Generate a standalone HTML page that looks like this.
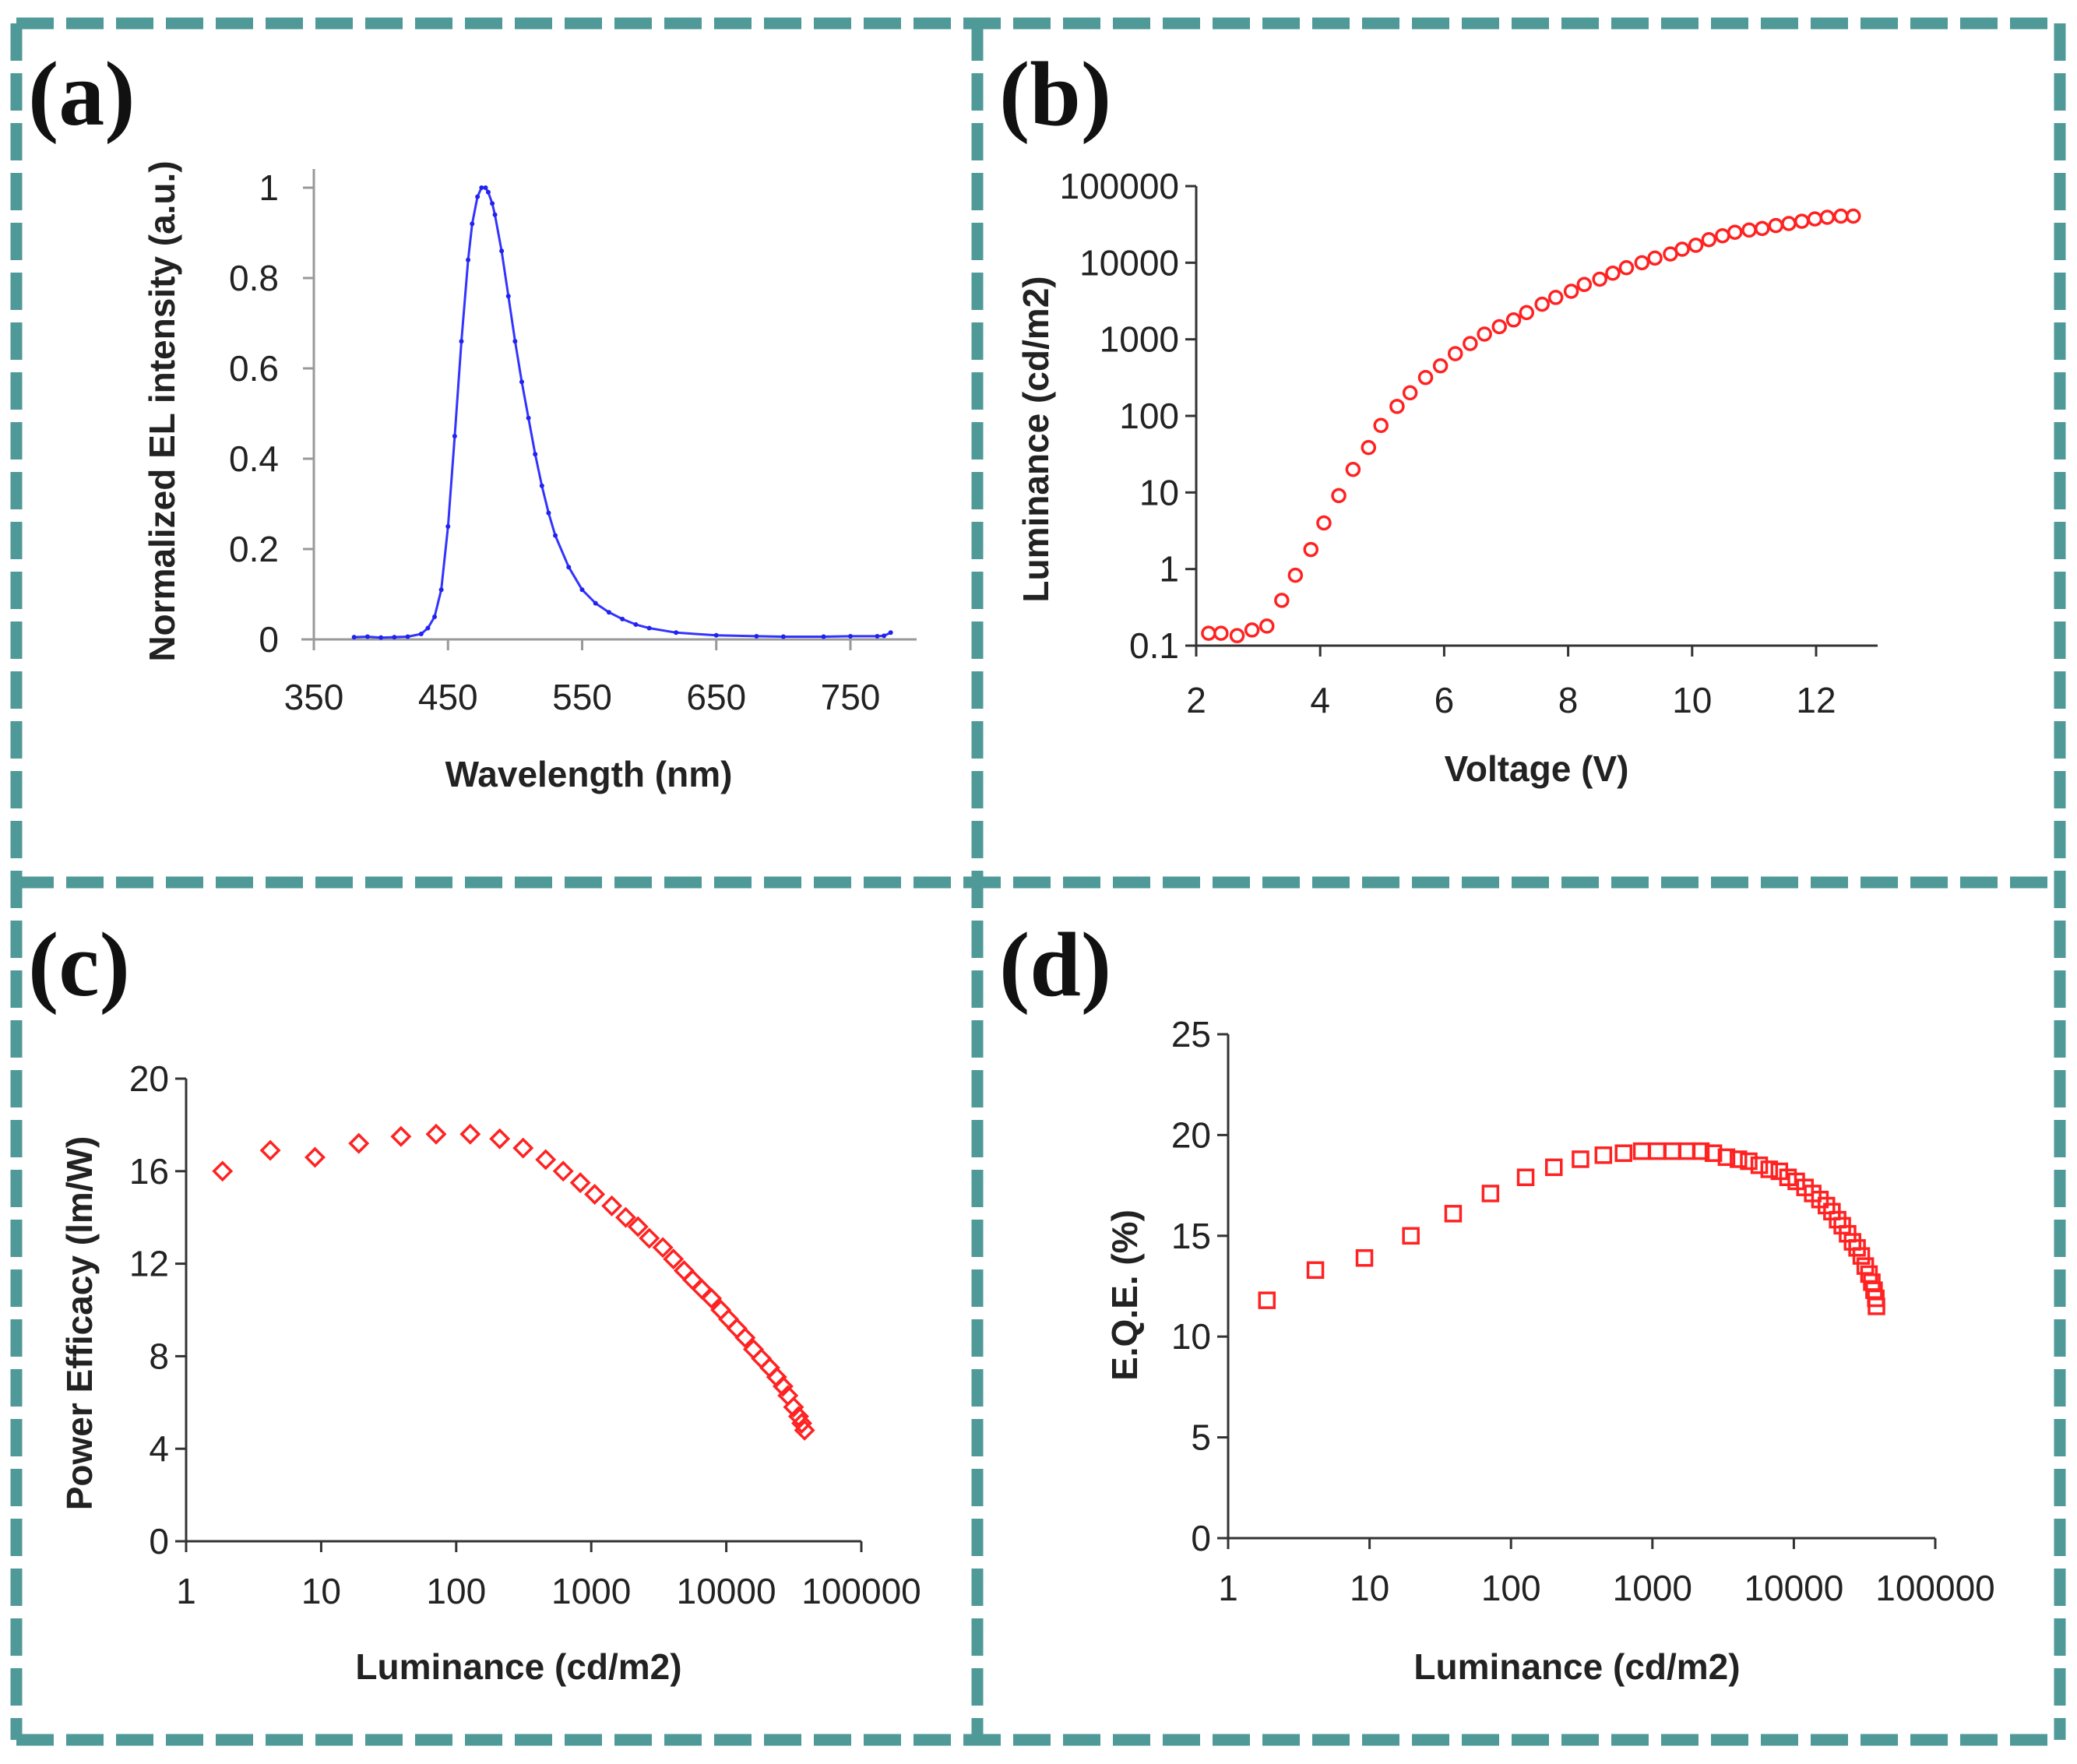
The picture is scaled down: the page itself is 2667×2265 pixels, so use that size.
<!DOCTYPE html>
<html><head><meta charset="utf-8"><style>
html,body{margin:0;padding:0;background:#fff;}
svg{display:block;}
text{font-family:"Liberation Sans",Arial,sans-serif;fill:#222;}
.tick{font-size:46px;}
.title{font-size:46px;font-weight:bold;}
.plabel{font-family:"Liberation Serif",serif;font-size:118px;font-weight:bold;fill:#111;}
</style></head><body>
<svg id="fig" width="2667" height="2265" viewBox="0 0 2667 2265" xmlns="http://www.w3.org/2000/svg">
<rect x="0" y="0" width="2667" height="2265" fill="#fff"/>
<g fill="none" stroke="#4f9a98" stroke-width="15" stroke-dasharray="48 16">
<line x1="21" y1="30" x2="2645" y2="30"/>
<line x1="21" y1="2234" x2="2645" y2="2234"/>
<line x1="21" y1="30" x2="21" y2="2234"/>
<line x1="2645" y1="30" x2="2645" y2="2234"/>
<line x1="1255" y1="30" x2="1255" y2="2234"/>
<line x1="21" y1="1133" x2="2645" y2="1133"/>
</g>
<text class="plabel" x="36" y="160">(a)</text>
<text class="plabel" x="1283" y="160">(b)</text>
<text class="plabel" x="36" y="1278">(c)</text>
<text class="plabel" x="1283" y="1278">(d)</text>
<g id="ga"></g>
<g id="gb"></g>
<g id="gc"></g>
<g id="gd"></g>
</svg>
<script>
// Panel a: EL spectrum
const aWavelength=[380,390,400,410,420,430,435,440,445,450,455,460,465,468,472,475,478,480,483,485,490,495,500,505,510,515,520,525,530,540,550,560,570,580,590,600,620,650,680,700,730,750,770,775,780];
const aIntensity=[0.005,0.006,0.004,0.005,0.006,0.012,0.025,0.05,0.11,0.25,0.45,0.66,0.84,0.92,0.98,1.0,1.0,0.99,0.965,0.94,0.86,0.76,0.66,0.57,0.49,0.41,0.34,0.28,0.23,0.16,0.11,0.08,0.06,0.045,0.033,0.025,0.015,0.009,0.007,0.006,0.006,0.007,0.007,0.008,0.015];
const aXTicks=[350,450,550,650,750];
const aYTicks=[0,0.2,0.4,0.6,0.8,1];
const aYTickLabels=["0","0.2","0.4","0.6","0.8","1"];
// Panel b: luminance vs voltage
const bVoltage=[2.2,2.4,2.66,2.9,3.14,3.38,3.6,3.85,4.06,4.3,4.53,4.78,4.98,5.24,5.45,5.7,5.94,6.18,6.42,6.65,6.89,7.12,7.33,7.58,7.8,8.05,8.26,8.51,8.72,8.94,9.19,9.4,9.65,9.84,10.06,10.27,10.49,10.69,10.92,11.13,11.35,11.56,11.77,11.98,12.18,12.4,12.6];
const bLuminance=[0.145,0.145,0.135,0.16,0.18,0.39,0.83,1.8,4.0,9.1,20,38.6,75,133,200,317,450,650,880,1170,1460,1790,2230,2870,3520,4240,5200,6100,7300,8600,10000,11500,13000,15000,16900,20000,22500,25000,26700,28000,30600,32500,34800,37300,39200,40600,40600];
const bXTicks=[2,4,6,8,10,12];
const bYTicks=[0.1,1,10,100,1000,10000,100000];
const bYTickLabels=["0.1","1","10","100","1000","10000","100000"];
// Panel c: power efficacy
const cLuminance=[1.86,4.2,9.0,19,39,71,127,210,313,460,620,830,1060,1420,1800,2220,2690,3390,4060,4870,5640,6600,7770,9110,10400,12000,13800,15900,18200,21000,23600,26300,28600,31500,34300,36200,38000];
const cEfficacy=[16.0,16.9,16.6,17.2,17.5,17.6,17.6,17.4,17.0,16.5,16.0,15.5,15.0,14.5,14.0,13.6,13.1,12.7,12.2,11.7,11.3,10.9,10.5,10.0,9.6,9.2,8.8,8.3,7.9,7.5,7.1,6.7,6.3,5.8,5.4,5.1,4.8];
const cXTicks=[1,10,100,1000,10000,100000];
const cXTickLabels=["1","10","100","1000","10000","100000"];
const cYTicks=[0,4,8,12,16,20];
// Panel d: EQE
const dLuminance=[1.88,4.14,9.2,19.6,39,71.6,127,201,310,450,625,840,1080,1390,1750,2200,2700,3340,4060,4800,5700,6700,7900,9100,10400,12000,13600,15300,17000,18600,20400,22000,24000,26000,28000,30000,32000,34000,35600,36900,38000,38400];
const dEQE=[11.8,13.3,13.9,15.0,16.1,17.1,17.9,18.4,18.8,19.0,19.1,19.2,19.2,19.2,19.2,19.2,19.1,18.9,18.8,18.7,18.5,18.3,18.2,17.9,17.7,17.4,17.1,16.8,16.5,16.2,15.8,15.5,15.1,14.7,14.4,14.0,13.5,13.1,12.7,12.3,11.9,11.5];
const dXTicks=[1,10,100,1000,10000,100000];
const dXTickLabels=["1","10","100","1000","10000","100000"];
const dYTicks=[0,5,10,15,20,25];

const NS="http://www.w3.org/2000/svg";
function mk(parent,tag,attrs){const e=document.createElementNS(NS,tag);for(const k in attrs)e.setAttribute(k,attrs[k]);parent.appendChild(e);return e;}
function linScale(d0,d1,r0,r1){return v=>r0+(v-d0)/(d1-d0)*(r1-r0);}
function logScale(d0,d1,r0,r1){return v=>r0+(Math.log10(v)-Math.log10(d0))/(Math.log10(d1)-Math.log10(d0))*(r1-r0);}

function axes(g,o){
  const ax=mk(g,'g',{});
  
  
  const yl=mk(ax,'line',{x1:o.x0,y1:o.yTop,x2:o.x0,y2:o.y0,stroke:o.color,'stroke-width':3});
  
  
  const xl=mk(ax,'line',{x1:o.xStart,y1:o.y0,x2:o.xEnd,y2:o.y0,stroke:o.color,'stroke-width':3});
  
  
  o.xTicks.forEach((t,i)=>{
    const x=o.sx(t);
    const tk=mk(ax,'line',{x1:x,y1:o.y0,x2:x,y2:o.y0+14,stroke:o.color,'stroke-width':3});
    
    
    const tx=mk(ax,'text',{x:x,y:o.y0+o.xLabelDy,'text-anchor':'middle',class:'tick'});
    tx.textContent=o.xLabels?o.xLabels[i]:String(t);
    
    
  });
  o.yTicks.forEach((t,i)=>{
    const y=o.sy(t);
    const tk=mk(ax,'line',{x1:o.x0-14,y1:y,x2:o.x0,y2:y,stroke:o.color,'stroke-width':3});
    
    
    const tx=mk(ax,'text',{x:o.x0-o.yLabelDx,y:y+16,'text-anchor':'end',class:'tick'});
    tx.textContent=o.yLabels?o.yLabels[i]:String(t);
    
    
  });
  const xt=mk(ax,'text',{x:o.xtX,y:o.xtY,'text-anchor':'middle',class:'title'});
  xt.textContent=o.xTitle;
  
  
  const yt=mk(ax,'text',{x:0,y:0,'text-anchor':'middle',class:'title',transform:`translate(${o.ytX},${o.ytY}) rotate(-90)`});
  yt.textContent=o.yTitle;
  
  
}

// Chart a
(function(){
  const g=document.getElementById('ga');
  const sx=linScale(350,750,403,1092), sy=linScale(0,1,821,241);
  axes(g,{x0:403,y0:821,yTop:217,xStart:387,xEnd:1177,sx,sy,xTicks:aXTicks,yTicks:aYTicks,yLabels:aYTickLabels,color:'#999',xLabelDy:90,yLabelDx:45,xTitle:'Wavelength (nm)',xtX:756,xtY:1010,yTitle:'Normalized  EL intensity (a.u.)',ytX:224,ytY:528});
  const pts=aWavelength.map((w,i)=>sx(w).toFixed(1)+','+sy(aIntensity[i]).toFixed(1)).join(' ');
  const pl=mk(g,'polyline',{points:pts,fill:'none',stroke:'#3333ff','stroke-width':3,'stroke-linejoin':'round'});
  
  
  aWavelength.forEach((w,i)=>{
    const c=mk(g,'circle',{cx:sx(w),cy:sy(aIntensity[i]),r:3,fill:'#2222ee'});
    
    
  });
})();

// Chart b
(function(){
  const g=document.getElementById('gb');
  const sx=linScale(2,12,1536,2332), sy=logScale(0.1,100000,829,239);
  axes(g,{x0:1536,y0:829,yTop:239,xStart:1522,xEnd:2411,sx,sy,xTicks:bXTicks,yTicks:bYTicks,yLabels:bYTickLabels,color:'#333',xLabelDy:86,yLabelDx:22,xTitle:'Voltage (V)',xtX:1973,xtY:1003,yTitle:'Luminance (cd/m2)',ytX:1346,ytY:564});
  bVoltage.forEach((v,i)=>{
    const c=mk(g,'circle',{cx:sx(v),cy:sy(bLuminance[i]),r:8,fill:'none',stroke:'#ff2222','stroke-width':3.5});
    
    
  });
})();

// Chart c
(function(){
  const g=document.getElementById('gc');
  const sx=logScale(1,100000,239,1106), sy=linScale(0,20,1979,1385);
  axes(g,{x0:239,y0:1979,yTop:1385,xStart:225,xEnd:1106,sx,sy,xTicks:cXTicks,xLabels:cXTickLabels,yTicks:cYTicks,color:'#333',xLabelDy:80,yLabelDx:22,xTitle:'Luminance (cd/m2)',xtX:666,xtY:2156,yTitle:'Power Efficacy (lm/W)',ytX:118,ytY:1699});
  cLuminance.forEach((l,i)=>{
    const x=sx(l),y=sy(cEfficacy[i]),s=11;
    const p=mk(g,'polygon',{points:`${x},${y-s} ${x+s},${y} ${x},${y+s} ${x-s},${y}`,fill:'none',stroke:'#ff2222','stroke-width':3.5});
    
    
  });
})();

// Chart d
(function(){
  const g=document.getElementById('gd');
  const sx=logScale(1,100000,1577,2485), sy=linScale(0,25,1975,1328);
  axes(g,{x0:1577,y0:1975,yTop:1328,xStart:1563,xEnd:2485,sx,sy,xTicks:dXTicks,xLabels:dXTickLabels,yTicks:dYTicks,color:'#333',xLabelDy:80,yLabelDx:22,xTitle:'Luminance (cd/m2)',xtX:2025,xtY:2156,yTitle:'E.Q.E. (%)',ytX:1460,ytY:1663});
  dLuminance.forEach((l,i)=>{
    const x=sx(l),y=sy(dEQE[i]),s=9.5;
    const r=mk(g,'rect',{x:x-s,y:y-s,width:2*s,height:2*s,fill:'none',stroke:'#ff2222','stroke-width':3.5});
    
    
  });
})();
</script>
</body></html>
